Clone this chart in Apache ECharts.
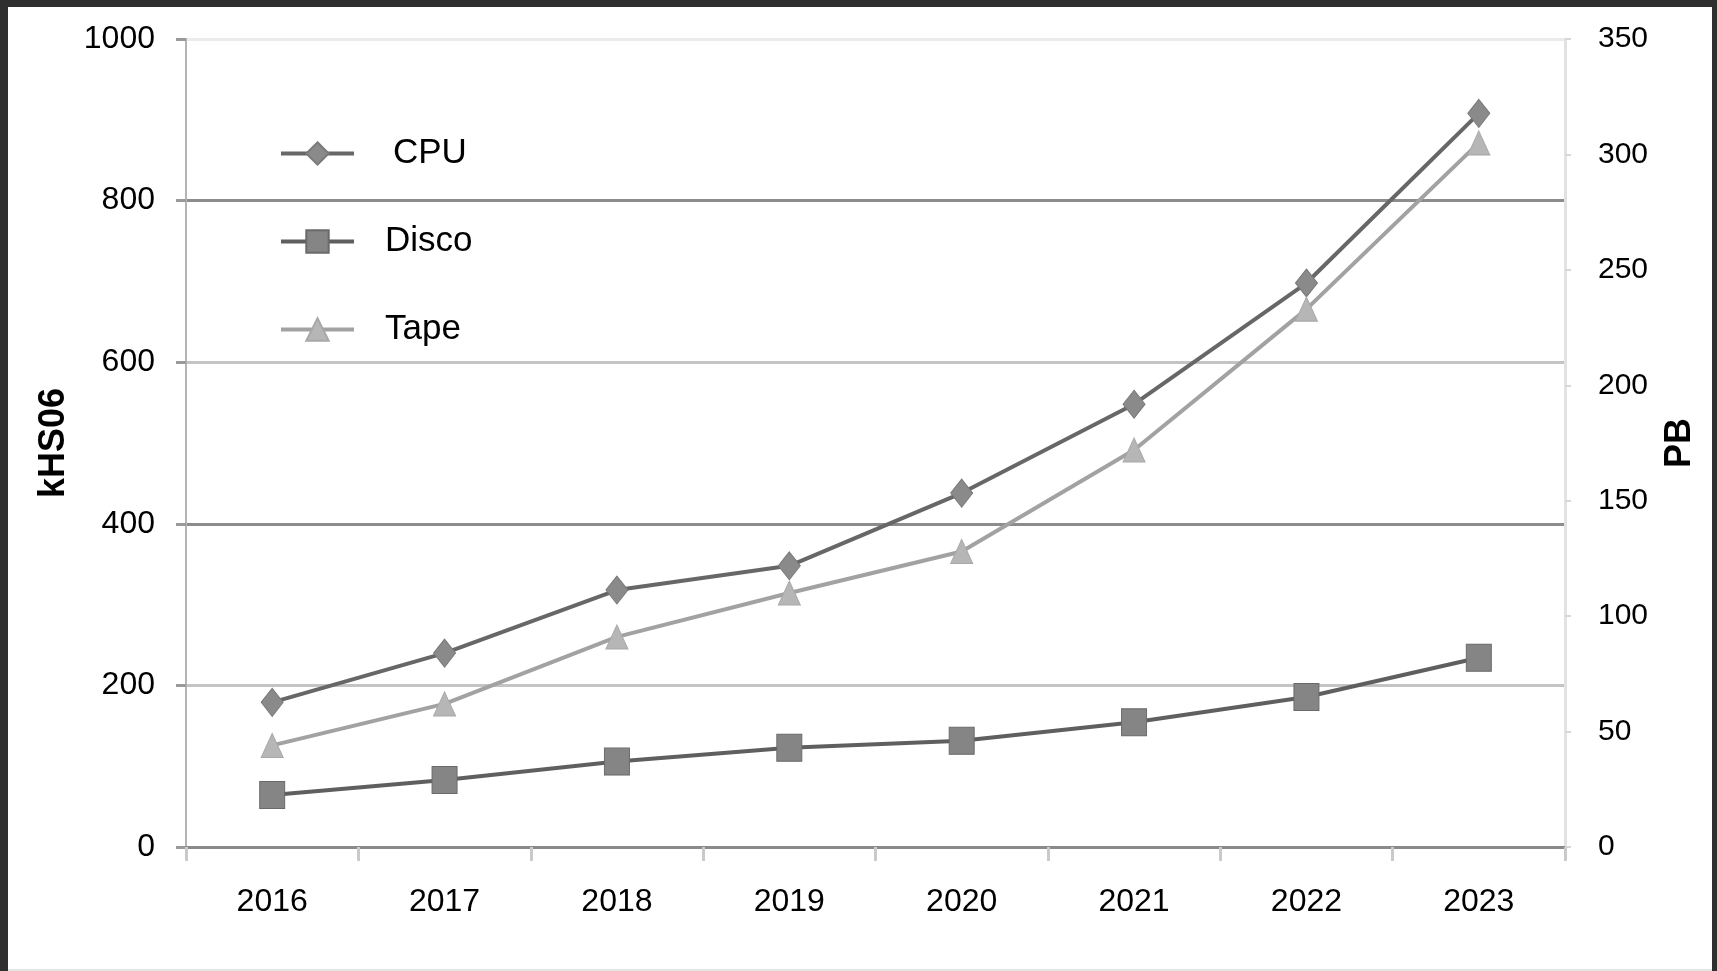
<!DOCTYPE html>
<html>
<head>
<meta charset="utf-8">
<title>kHS06 / PB</title>
<script src="https://cdn.jsdelivr.net/npm/echarts@6/dist/echarts.min.js"></script>
<style>
  html, body { margin: 0; padding: 0; background: #2f2f2f; width: 1717px; height: 971px; overflow: hidden; }
  #chart { position: absolute; left: 8px; top: 7px; width: 1704px; height: 962px; background: #ffffff; border-bottom: 2px solid #e4e4e4; }
</style>
</head>
<body>
<div id="chart"></div>
<script>
// Years on the horizontal axis
const years = ['2016', '2017', '2018', '2019', '2020', '2021', '2022', '2023'];

// CPU capacity (kHS06, left axis)
const cpu = [179, 240, 318, 348, 438, 548, 698, 908];
// Disk and tape storage (PB, right axis)
const disco = [22.5, 29, 37, 43, 46, 54, 65, 82];
const tape = [44, 62, 91, 110, 128, 172, 233, 305];

// Axis tick values
const leftTicks = [0, 200, 400, 600, 800, 1000];
const rightTicks = [0, 50, 100, 150, 200, 250, 300, 350];

const FONT = '"Liberation Sans", Arial, sans-serif';

const chart = echarts.init(document.getElementById('chart'), null, { renderer: 'canvas' });

chart.setOption({
  animation: false,
  backgroundColor: '#ffffff',
  grid: { left: 178, right: 147, top: 32, bottom: 122, containLabel: false },
  legend: {
    orient: 'vertical',
    left: 266,
    top: 124,
    itemWidth: 73,
    itemHeight: 28,
    itemGap: 53,
    lineStyle: { width: 4 },
    textStyle: { fontFamily: FONT, fontSize: 35, color: '#000' },
    data: [
      { name: 'CPU', textStyle: { padding: [0, 0, 0, 34] } },
      { name: 'Disco', textStyle: { padding: [0, 0, 0, 26] } },
      { name: 'Tape', textStyle: { padding: [0, 0, 0, 26] } }
    ]
  },
  xAxis: {
    type: 'category',
    data: years,
    boundaryGap: true,
    axisLine: { lineStyle: { color: '#8a8a8a', width: 3 } },
    axisTick: { show: true, interval: 0, length: 14, lineStyle: { color: '#cacaca', width: 3 } },
    axisLabel: { fontFamily: FONT, fontSize: 32, color: '#000', margin: 39, interval: 0 },
    splitLine: { show: false }
  },
  yAxis: [
    {
      type: 'value',
      min: leftTicks[0],
      max: leftTicks[leftTicks.length - 1],
      interval: 200,
      name: 'kHS06',
      nameLocation: 'middle',
      nameRotate: 90,
      nameGap: 114,
      nameTextStyle: { fontFamily: FONT, fontSize: 36, fontWeight: 'bold', color: '#000' },
      axisLine: { show: true, lineStyle: { color: '#b4b4b4', width: 2 } },
      axisTick: { show: true, length: 10, lineStyle: { color: '#9a9a9a', width: 3 } },
      axisLabel: {
        fontFamily: FONT, fontSize: 32, color: '#000', margin: 31,
        formatter: (v) => String(v)
      },
      splitLine: {
        show: true,
        lineStyle: { color: ['#8c8c8c', '#c4c4c4', '#8c8c8c', '#c4c4c4', '#8c8c8c', '#ebebeb'], width: 3 }
      }
    },
    {
      type: 'value',
      min: rightTicks[0],
      max: rightTicks[rightTicks.length - 1],
      interval: 50,
      name: 'PB',
      nameLocation: 'middle',
      nameRotate: 90,
      nameGap: 97,
      nameTextStyle: { fontFamily: FONT, fontSize: 36, fontWeight: 'bold', color: '#000' },
      axisLine: { show: true, lineStyle: { color: '#e2e2e2', width: 3 } },
      axisTick: { show: true, length: 6, lineStyle: { color: '#d8d8d8', width: 2 } },
      axisLabel: {
        fontFamily: FONT, fontSize: 30, color: '#000', margin: 33,
        formatter: (v) => String(v)
      },
      splitLine: { show: false }
    }
  ],
  series: [
    {
      name: 'CPU',
      type: 'line',
      yAxisIndex: 0,
      data: cpu,
      symbol: 'diamond',
      symbolSize: [22, 28],
      lineStyle: { color: '#676767', width: 4 },
      itemStyle: { color: '#8a8a8a', borderColor: '#7a7a7a', borderWidth: 1 }
    },
    {
      name: 'Disco',
      type: 'line',
      yAxisIndex: 1,
      data: disco,
      symbol: 'rect',
      symbolSize: [25, 27],
      lineStyle: { color: '#5f5f5f', width: 4 },
      itemStyle: { color: '#858585', borderColor: '#6a6a6a', borderWidth: 1 }
    },
    {
      name: 'Tape',
      type: 'line',
      yAxisIndex: 1,
      data: tape,
      symbol: 'triangle',
      symbolSize: [22, 24],
      lineStyle: { color: '#a2a2a2', width: 4 },
      itemStyle: { color: '#b6b6b6', borderColor: '#a8a8a8', borderWidth: 1 }
    }
  ]
});
</script>
</body>
</html>
